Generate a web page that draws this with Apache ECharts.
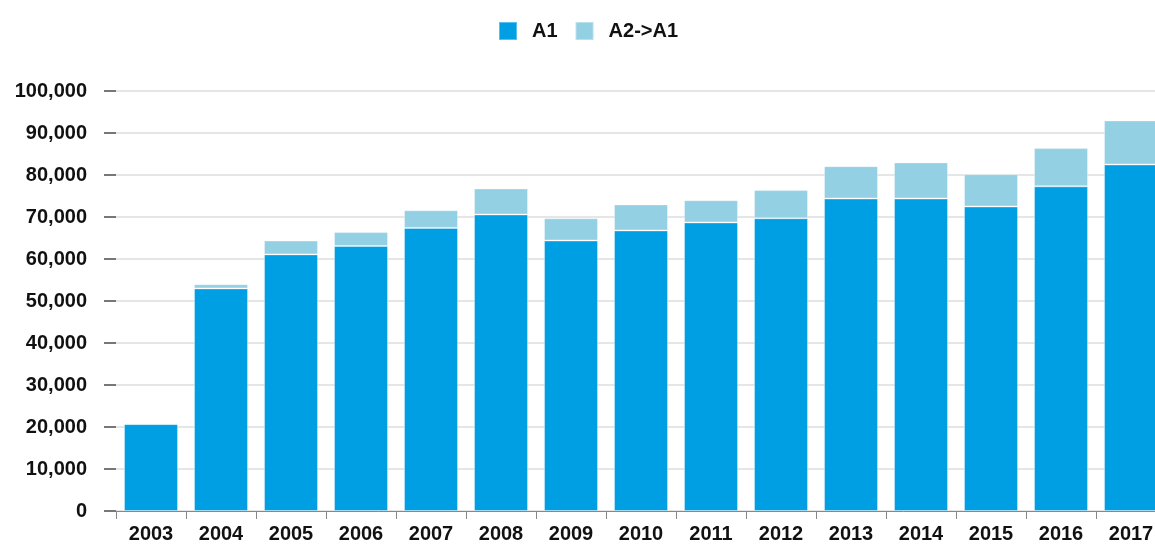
<!DOCTYPE html>
<html>
<head>
<meta charset="utf-8">
<script src="https://cdn.jsdelivr.net/npm/echarts@6/dist/echarts.min.js"></script>
<style>html,body{margin:0;padding:0;background:#fff;overflow:hidden;width:1155px;height:545px}#c{width:1166px;height:545px}</style>
</head>
<body>
<div id="c"></div>
<script>
const years = ['2003','2004','2005','2006','2007','2008','2009','2010','2011','2012','2013','2014','2015','2016','2017'];
const a1 = [20700, 53000, 61100, 63100, 67400, 70600, 64400, 66800, 68700, 69700, 74400, 74400, 72500, 77300, 82500];
const a2toA1 = [0, 1000, 3300, 3300, 4200, 6200, 5300, 6200, 5300, 6700, 7700, 8600, 7700, 9100, 10500];
const seriesNames = ['A1', 'A2->A1'];
const yMax = 100000, yStep = 10000;

const chart = echarts.init(document.getElementById('c'), null, {renderer: 'canvas'});
const font = '"Liberation Sans", Arial, sans-serif';
chart.setOption({
  animation: false,
  color: ['#009fe3', '#94d0e3'],
  legend: {
    left: 493, top: 16,
    itemWidth: 18, itemHeight: 18, itemGap: 17,
    icon: 'rect',
    textStyle: {fontFamily: font, fontWeight: 'bold', fontSize: 20, color: '#111', padding: [0, 0, 0, 10]},
    data: seriesNames
  },
  grid: {left: 116, right: 0, top: 91, height: 420, containLabel: false},
  xAxis: {
    type: 'category',
    data: years,
    axisLine: {lineStyle: {color: '#888', width: 1}},
    axisTick: {show: true, length: 8, lineStyle: {color: '#888'}},
    axisLabel: {interval: 0, margin: 13, fontFamily: font, fontWeight: 'bold', fontSize: 20, color: '#111'}
  },
  yAxis: {
    type: 'value', min: 0, max: yMax, interval: yStep,
    axisLine: {show: false},
    axisTick: {show: true, length: 12, lineStyle: {color: '#777', width: 2}},
    splitLine: {lineStyle: {color: '#e6e6e6', width: 2}},
    axisLabel: {margin: 29, fontFamily: font, fontWeight: 'bold', fontSize: 20, color: '#111',
      formatter: v => v.toLocaleString('en-US')}
  },
  series: [
    {name: seriesNames[0], type: 'bar', stack: 's', data: a1, barWidth: 54,
     itemStyle: {borderColor: 'rgba(255,255,255,0.35)', borderWidth: 1}},
    {name: seriesNames[1], type: 'bar', stack: 's', data: a2toA1, barWidth: 54,
     itemStyle: {borderColor: 'rgba(255,255,255,0.35)', borderWidth: 1}}
  ]
});
</script>
</body>
</html>
